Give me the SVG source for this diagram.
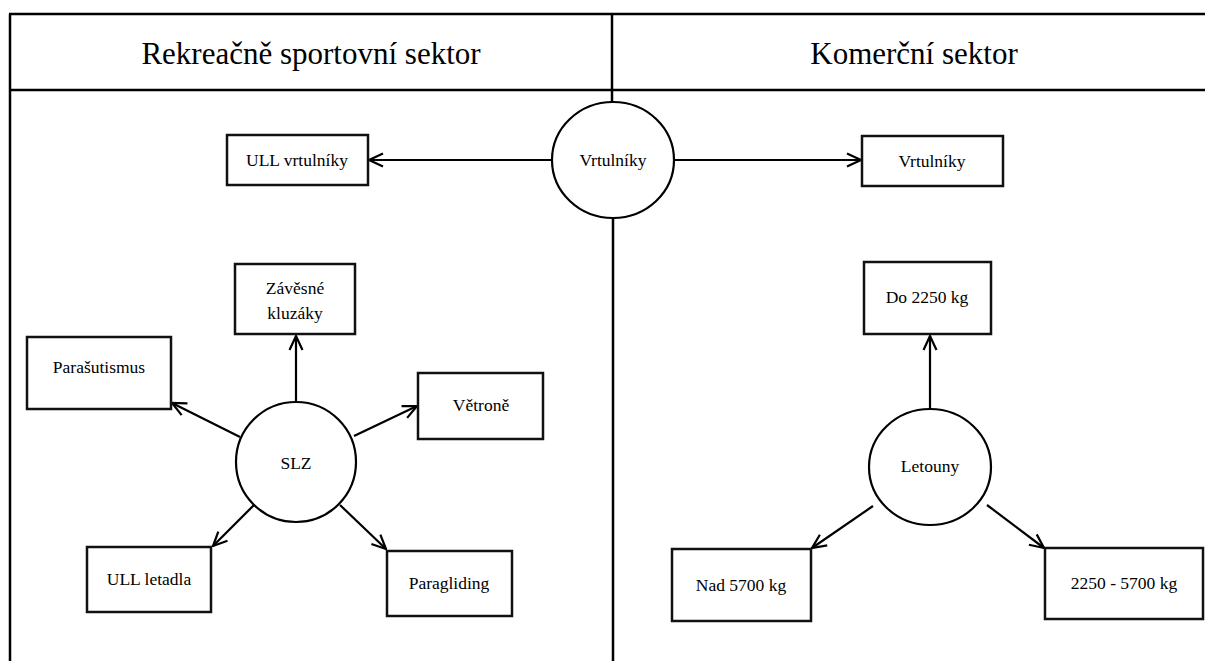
<svg xmlns="http://www.w3.org/2000/svg" width="1205" height="661" viewBox="0 0 1205 661">
<style>
.frame{stroke:#000;stroke-width:2.5;fill:none}
.box{fill:#fff;stroke:#111;stroke-width:2.5}
.circ{fill:#fff;stroke:#000;stroke-width:2.2}
text{font-family:'Liberation Serif','DejaVu Serif',serif;fill:#000;text-anchor:middle;dominant-baseline:central}
.lbl{font-size:17.5px}
.ttl{font-size:31px}
.conn line{stroke:#000;stroke-width:2.2;marker-end:url(#arr)}
</style>
<defs>
<marker id="arr" viewBox="0 0 16 16" refX="15" refY="8" markerWidth="16" markerHeight="16" markerUnits="userSpaceOnUse" orient="auto">
<path d="M1,1.5 L15,8 L1,14.5" fill="none" stroke="#000" stroke-width="2.2"/>
</marker>
</defs>
<rect width="1205" height="661" fill="#fff"/>
<g id="frame">
<line class="frame" x1="10" y1="14" x2="10" y2="661"/>
<line class="frame" x1="9" y1="14" x2="1205" y2="14"/>
<line class="frame" x1="9" y1="90" x2="1205" y2="90"/>
<line class="frame" x1="612" y1="14" x2="612" y2="102"/>
<line class="frame" x1="613" y1="218" x2="613" y2="661"/>
</g>
<g id="header-left"><text class="ttl" x="311" y="53">Rekreačně sportovní sektor</text></g>
<g id="header-right"><text class="ttl" x="914" y="53">Komerční sektor</text></g>
<g class="conn" id="connectors">
<line x1="552" y1="160" x2="369" y2="160"/>
<line x1="674" y1="160" x2="861" y2="160"/>
<line x1="296" y1="402" x2="296" y2="336"/>
<line x1="240" y1="437" x2="172" y2="403"/>
<line x1="354" y1="436" x2="417" y2="406"/>
<line x1="254" y1="505" x2="213" y2="546"/>
<line x1="340" y1="505" x2="386" y2="549"/>
<line x1="930" y1="408" x2="930" y2="336"/>
<line x1="873" y1="506" x2="812" y2="548"/>
<line x1="987" y1="505" x2="1044" y2="548"/>
</g>
<g id="n-vrtulniky-center"><ellipse class="circ" cx="613" cy="160" rx="61" ry="58"/><text class="lbl" x="613" y="160">Vrtulníky</text></g>
<g id="n-ull-vrtulniky"><rect class="box" x="227" y="135" width="141" height="50"/><text class="lbl" x="297" y="160">ULL vrtulníky</text></g>
<g id="n-vrtulniky-right"><rect class="box" x="862" y="136" width="141" height="50"/><text class="lbl" x="932" y="161">Vrtulníky</text></g>
<g id="n-zavesne"><rect class="box" x="235" y="264" width="120" height="70"/><text class="lbl" x="295" y="288">Závěsné</text><text class="lbl" x="295" y="313">kluzáky</text></g>
<g id="n-parasutismus"><rect class="box" x="27" y="337" width="144" height="72"/><text class="lbl" x="99" y="367">Parašutismus</text></g>
<g id="n-vetrone"><rect class="box" x="418" y="373" width="125" height="66"/><text class="lbl" x="481" y="405">Větroně</text></g>
<g id="n-slz"><circle class="circ" cx="296" cy="462" r="60"/><text class="lbl" x="296" y="463">SLZ</text></g>
<g id="n-ull-letadla"><rect class="box" x="87" y="547" width="124" height="65"/><text class="lbl" x="149" y="579">ULL letadla</text></g>
<g id="n-paragliding"><rect class="box" x="387" y="551" width="125" height="65"/><text class="lbl" x="449" y="583">Paragliding</text></g>
<g id="n-do2250"><rect class="box" x="864" y="262" width="127" height="72"/><text class="lbl" x="927" y="297">Do 2250 kg</text></g>
<g id="n-letouny"><ellipse class="circ" cx="930" cy="467" rx="61" ry="58"/><text class="lbl" x="930" y="466">Letouny</text></g>
<g id="n-nad5700"><rect class="box" x="672" y="549" width="139" height="72"/><text class="lbl" x="741" y="585">Nad 5700 kg</text></g>
<g id="n-2250-5700"><rect class="box" x="1045" y="548" width="158" height="71"/><text class="lbl" x="1124" y="583">2250 - 5700 kg</text></g>
</svg>
